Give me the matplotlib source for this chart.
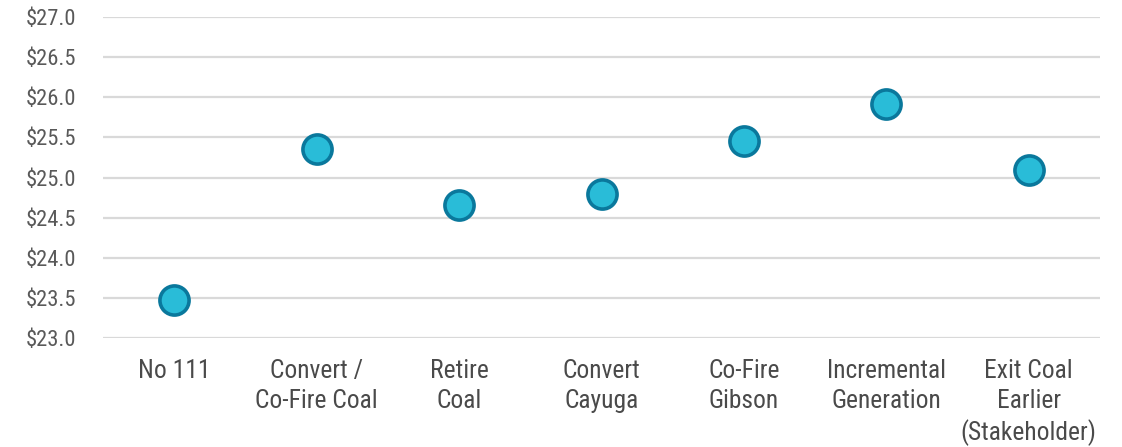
import matplotlib
matplotlib.use("Agg")
import matplotlib.pyplot as plt
from matplotlib.ticker import FuncFormatter, MultipleLocator

# scenario cost data
scenarios = [
    "No 111",
    "Convert /\nCo-Fire Coal",
    "Retire\nCoal",
    "Convert\nCayuga",
    "Co-Fire\nGibson",
    "Incremental\nGeneration",
    "Exit Coal\nEarlier\n(Stakeholder)",
]
costs = [23.47, 25.36, 24.66, 24.79, 25.46, 25.91, 25.09]

plt.rcParams['font.family'] = ['Liberation Sans Narrow', 'Roboto Condensed', 'Roboto', 'DejaVu Sans']

fig = plt.figure(figsize=(11.22, 4.47), dpi=100)
ax = fig.add_axes([103 / 1122, 1 - 338 / 447, 997 / 1122, 321 / 447])

x = range(len(scenarios))
ax.scatter(x, costs, s=440, color='#29BCD8', edgecolors='#0A789C',
           linewidths=2.6, zorder=3)

ax.set_xlim(-0.5, len(scenarios) - 0.5)
ax.set_ylim(23.0, 27.0)
ax.yaxis.set_major_locator(MultipleLocator(0.5))
ax.yaxis.set_major_formatter(FuncFormatter(lambda v, p: f"${v:.1f}"))
ax.grid(axis='y', color='#D9D9D9', linewidth=1.6, zorder=0)
ax.set_axisbelow(True)

ax.set_xticks(list(x))
ax.set_xticklabels(scenarios, fontsize=18.4, color='#4A4A4A',
                   linespacing=1.32, va='top')
ax.tick_params(axis='x', length=0, pad=15)
ax.tick_params(axis='y', length=0, pad=19, labelsize=16.2, labelcolor='#595959')

for s in ax.spines.values():
    s.set_visible(False)

fig.savefig("out.png", dpi=100)
